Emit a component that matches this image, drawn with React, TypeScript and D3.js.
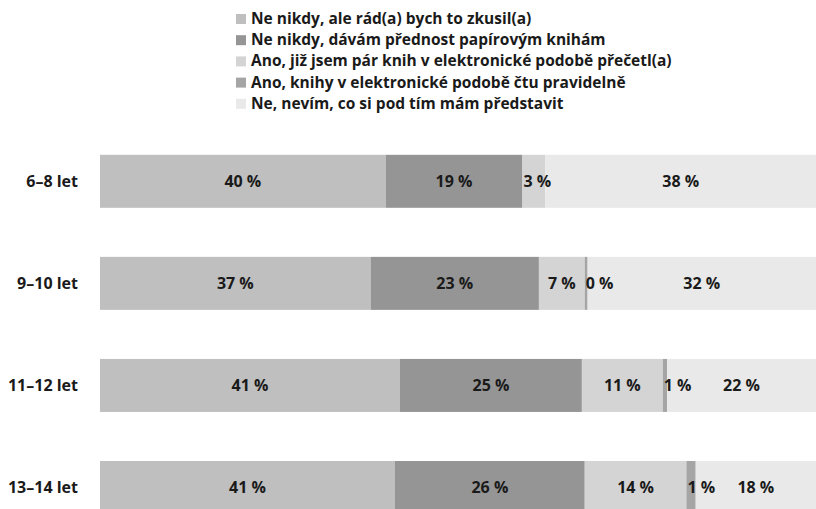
import { useEffect, useRef } from "react";
import * as d3 from "d3";

// age groups (rows)
const ageGroups = ["6–8 let", "9–10 let", "11–12 let", "13–14 let"];

// answer categories (legend order = stacking order)
const answers = [
  "Ne nikdy, ale rád(a) bych to zkusil(a)",
  "Ne nikdy, dávám přednost papírovým knihám",
  "Ano, již jsem pár knih v elektronické podobě přečetl(a)",
  "Ano, knihy v elektronické podobě čtu pravidelně",
  "Ne, nevím, co si pod tím mám představit",
];
const answerColors = ["#bfbfbf", "#959595", "#d4d4d4", "#a5a5a5", "#e9e9e9"];

// bar lengths as drawn (share of the row, %)
const wouldLikeTo = [39.9, 37.8, 41.9, 41.2];
const preferPaper = [19.1, 23.5, 25.4, 26.5];
const readSome = [3.2, 6.4, 11.3, 14.2];
const readRegularly = [0, 0.4, 0.6, 1.3];
const dontKnow = [37.8, 31.9, 20.8, 16.8];

// percentages printed on the bars (null = no label)
const wouldLikeToLabel = [40, 37, 41, 41];
const preferPaperLabel = [19, 23, 25, 26];
const readSomeLabel = [3, 7, 11, 14];
const readRegularlyLabel = [null, 0, 1, 1];
const dontKnowLabel = [38, 32, 22, 18];

const W = 816;
const H = 509;
const FONT = "'Open Sans', 'Noto Sans', sans-serif";
const INK = "#1a1a1a";

const App = () => {
  const svgRef = useRef<SVGSVGElement>(null);

  useEffect(() => {
    document.body.style.margin = "0";
    const svg = d3.select(svgRef.current);
    svg.selectAll("*").remove();

    const series = [wouldLikeTo, preferPaper, readSome, readRegularly, dontKnow];
    const printed = [wouldLikeToLabel, preferPaperLabel, readSomeLabel, readRegularlyLabel, dontKnowLabel];

    const table = ageGroups.map((g, i) => {
      const row: any = { group: g };
      answers.forEach((a, k) => (row[a] = series[k][i]));
      return row;
    });

    const stacked = d3.stack<any>().keys(answers)(table);

    const x = d3.scaleLinear().domain([0, 100]).range([100, 816]);
    const y = d3.scalePoint<string>().domain(ageGroups).range([181.3, 487.5]);
    const barH = 53;

    // Legend
    const legend = svg.append("g").attr("transform", "translate(236,14)");
    answers.forEach((a, k) => {
      const row = legend.append("g").attr("transform", `translate(0,${k * 21.2})`);
      row.append("rect")
        .attr("width", 10)
        .attr("height", 10)
        .attr("fill", answerColors[k]);
      row.append("text")
        .attr("x", 15)
        .attr("y", 10)
        .style("font-family", FONT)
        .style("font-weight", "bold")
        .style("font-size", "15.5px")
        .style("fill", INK)
        .text(a);
    });

    // Bars
    stacked.forEach((layer, k) => {
      svg.append("g")
        .selectAll("rect")
        .data(layer)
        .enter().append("rect")
        .attr("x", d => x(d[0]))
        .attr("y", d => (y(d.data.group) as number) - barH / 2)
        .attr("width", d => Math.max(0, x(d[1]) - x(d[0])))
        .attr("height", barH)
        .attr("fill", answerColors[k]);
    });

    // Value labels
    stacked.forEach((layer, k) => {
      layer.forEach((d, i) => {
        const v = printed[k][i];
        if (v === null) return;
        const x0 = x(d[0]);
        const w = x(d[1]) - x0;
        const narrow = w < 30;
        svg.append("text")
          .attr("x", narrow ? x0 + 1 : x0 + w / 2)
          .attr("y", (y(d.data.group) as number))
          .attr("dy", "0.36em")
          .style("text-anchor", narrow ? "start" : "middle")
          .style("font-family", FONT)
          .style("font-weight", "bold")
          .style("font-size", "16px")
          .style("fill", INK)
          .text(`${v} %`);
      });
    });

    // Category labels
    svg.append("g")
      .selectAll("text")
      .data(ageGroups)
      .enter().append("text")
      .attr("x", 78)
      .attr("y", d => y(d) as number)
      .attr("dy", "0.36em")
      .style("text-anchor", "end")
      .style("font-family", FONT)
      .style("font-weight", "bold")
      .style("font-size", "16px")
      .style("fill", INK)
      .text(d => d);
  }, []);

  return (
    <svg ref={svgRef} width={W} height={H} style={{ display: "block", background: "#fff" }}></svg>
  );
};

export default App;
